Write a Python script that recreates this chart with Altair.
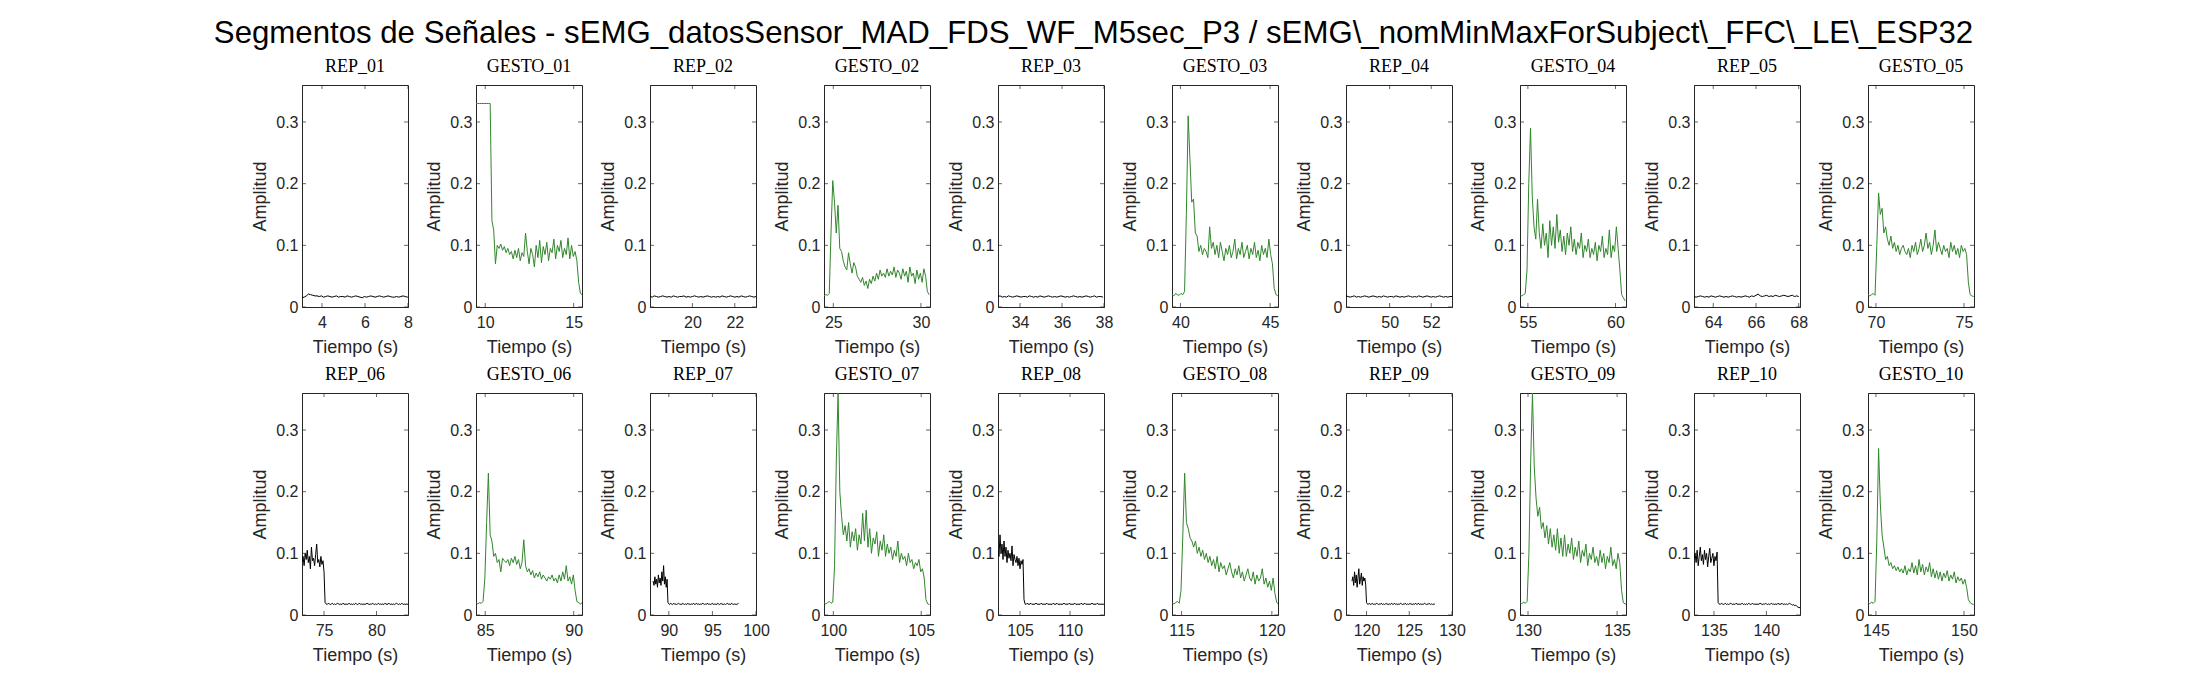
import altair as alt
import pandas as pd

TITLE = ("Segmentos de Señales - sEMG_datosSensor_MAD_FDS_WF_M5sec_P3 / "
         "sEMG\\_nomMinMaxForSubject\\_FFC\\_LE\\_ESP32")

DT = 0.1          # paso de muestreo (s)
Y_MAX = 0.36
Y_TICKS = [0, 0.1, 0.2, 0.3]

# amplitudes en milesimas, una muestra cada DT segundos desde t0
rep_01 = [15, 16, 18, 21, 20, 19, 18, 18, 17, 18, 16, 17, 18, 17, 16, 17, 18, 16, 17, 17,
          16, 18, 17, 16, 17, 18, 17, 16, 15, 17, 16, 17, 18, 17, 16, 17, 18, 17, 16, 17,
          18, 17, 16, 16, 17, 16, 17, 18, 17, 16, 17]
gesto_01 = [330, 330, 330, 330, 330, 330, 330, 330, 330, 140,
            125, 70, 100, 95, 102, 92, 98, 88, 95, 85,
            90, 78, 92, 80, 95, 75, 88, 82, 120, 90,
            70, 95, 85, 65, 100, 80, 108, 72, 98, 85,
            105, 75, 95, 88, 110, 78, 100, 90, 108, 80,
            95, 85, 112, 78, 100, 82, 90, 75, 40, 22, 20]
rep_02 = [17, 16, 18, 17, 16, 17, 18, 17, 16, 17, 16, 18, 17, 16, 17, 17, 18, 16, 17, 16,
          17, 18, 17, 16, 17, 16, 17, 18, 17, 16, 17, 16, 17, 16, 18, 17, 16, 17, 18, 17,
          16, 17, 16, 18, 17, 16, 17, 18, 17, 16, 17]
gesto_02 = [18, 20, 19, 22, 120, 205, 170, 120, 165, 95,
            90, 75, 65, 60, 88, 70, 55, 72, 65, 50,
            45, 40, 48, 35, 42, 30, 45, 38, 50, 42,
            55, 45, 60, 50, 55, 48, 62, 50, 58, 52,
            65, 48, 60, 55, 45, 62, 50, 58, 40, 65,
            50, 55, 38, 60, 45, 55, 40, 62, 50, 25, 20]
rep_03 = [17, 18, 16, 17, 16, 18, 17, 16, 17, 18, 17, 16, 17, 17, 16, 18, 17, 16, 17, 16,
          18, 17, 16, 17, 18, 17, 16, 17, 16, 17, 18, 17, 16, 17, 16, 17, 18, 17, 16, 17,
          16, 17, 18, 17, 16, 17, 18, 16, 17, 17, 16]
gesto_03 = [20, 18, 22, 20, 19, 22, 20, 25, 150, 310,
            240, 170, 175, 120, 115, 90, 100, 85, 95, 90,
            80, 130, 95, 105, 85, 100, 80, 105, 90, 75,
            95, 85, 100, 80, 90, 110, 78, 95, 85, 105,
            80, 90, 100, 78, 95, 85, 105, 80, 92, 75,
            100, 85, 95, 80, 110, 85, 70, 30, 20, 18]
rep_04 = [18, 17, 16, 17, 18, 16, 17, 16, 17, 18, 17, 16, 17, 18, 17, 16, 17, 16, 18, 17,
          16, 17, 17, 16, 18, 17, 16, 17, 16, 17, 18, 17, 16, 17, 16, 18, 17, 16, 17, 18,
          17, 16, 17, 16, 17, 18, 17, 16, 17, 16, 17, 17]
gesto_04 = [20, 18, 20, 22, 60, 200, 290, 180, 130, 110,
            175, 120, 95, 135, 100, 120, 80, 140, 100, 130,
            95, 150, 105, 125, 90, 115, 85, 120, 100, 130,
            90, 110, 85, 105, 95, 120, 80, 100, 90, 110,
            80, 95, 85, 105, 75, 100, 90, 115, 80, 95,
            85, 125, 80, 100, 90, 130, 95, 60, 20, 15, 10]
rep_05 = [17, 16, 17, 18, 17, 16, 17, 16, 18, 17, 16, 17, 18, 17, 16, 17, 16, 17, 18, 17,
          16, 17, 16, 17, 18, 17, 16, 18, 17, 19, 21, 18, 17, 18, 19, 17, 18, 17, 19, 18,
          17, 18, 19, 18, 17, 18, 19, 17, 18, 17]
gesto_05 = [20, 18, 20, 22, 19, 100, 185, 150, 160, 120,
            130, 110, 100, 115, 95, 105, 90, 100, 85, 95,
            100, 90, 85, 95, 80, 100, 90, 105, 85, 95,
            110, 90, 100, 120, 95, 105, 85, 100, 125, 90,
            105, 95, 85, 100, 90, 95, 80, 105, 90, 100,
            85, 95, 80, 100, 90, 95, 85, 40, 20, 18, 17]
rep_06 = [85, 95, 80, 100, 90, 105, 85, 95, 75, 110,
          88, 92, 80, 98, 115, 85, 90, 78, 95, 82,
          88, 70,
          20, 18, 17, 19, 18, 17, 18, 19, 17, 18,
          17, 18, 19, 18, 17, 18, 17, 19, 18, 17,
          18, 17, 18, 19, 17, 18, 17, 18, 17, 19,
          18, 17, 18, 19, 17, 18, 17, 18, 17, 18,
          19, 18, 17, 18, 17, 19, 18, 17, 18, 17,
          18, 19, 17, 18, 17, 18, 17, 19, 18, 17,
          18, 19, 17, 18, 17, 18, 17, 18, 19, 18,
          17, 18, 17, 19, 18, 17, 18, 17, 18, 17]
gesto_06 = [20, 18, 20, 19, 22, 60, 150, 230, 130, 120,
            95, 100, 85, 90, 70, 92, 88, 85, 90, 80,
            92, 85, 95, 82, 90, 75, 85, 122, 80, 70,
            75, 65, 72, 60, 68, 62, 70, 58, 65, 60,
            55, 62, 58, 65, 55, 60, 52, 65, 55, 70,
            58, 80, 55, 62, 50, 65, 40, 22, 20, 18, 20]
rep_07 = [55, 48, 62, 50, 58, 45, 65, 52, 60, 48,
          70, 55, 80, 50, 62, 45, 58,
          20, 18, 17, 19, 18, 17, 18, 19, 17, 18,
          17, 18, 19, 18, 17, 18, 17, 19, 18, 17,
          18, 17, 18, 19, 17, 18, 17, 18, 17, 19,
          18, 17, 18, 19, 17, 18, 17, 18, 17, 18,
          19, 18, 17, 18, 17, 19, 18, 17, 18, 17,
          18, 19, 17, 18, 17, 18, 17, 19, 18, 17,
          18, 19, 17, 18, 17, 18, 17, 18, 19, 18,
          17, 18, 17, 19, 18, 17, 18, 17, 18, 17,
          18, 19]
gesto_07 = [20, 18, 20, 22, 19, 21, 80, 250, 360, 200,
            160, 130, 145, 120, 150, 110, 135, 120, 140, 105,
            130, 115, 165, 120, 170, 110, 140, 100, 125, 115,
            135, 95, 120, 105, 130, 95, 115, 100, 110, 90,
            105, 95, 120, 85, 100, 90, 95, 80, 100, 85,
            90, 75, 85, 80, 90, 70, 75, 60, 25, 18, 17]
rep_08 = [105, 95, 130, 100, 115, 90, 120, 95, 110, 85,
          105, 92, 100, 88, 112, 80, 98, 90, 85, 95,
          80, 92, 75, 88, 82, 90,
          25, 18, 17, 19, 18, 17, 18, 19, 17, 18,
          17, 18, 19, 18, 17, 18, 17, 19, 18, 17,
          18, 17, 18, 19, 17, 18, 17, 18, 17, 19,
          18, 17, 18, 19, 17, 18, 17, 18, 17, 18,
          19, 18, 17, 18, 17, 19, 18, 17, 18, 17,
          18, 19, 17, 18, 17, 18, 17, 19, 18, 17,
          18, 19, 17, 18, 17, 18, 17, 18, 19, 18,
          17, 18, 17, 19, 18, 17, 18, 17, 18, 17, 18]
gesto_08 = [20, 18, 20, 22, 19, 40, 130, 230, 150, 140,
            125, 120, 110, 120, 100, 110, 95, 105, 90, 100,
            85, 95, 80, 90, 75, 95, 70, 85, 75, 80,
            65, 75, 85, 70, 60, 75, 65, 80, 60, 70,
            55, 65, 75, 60, 55, 70, 50, 65, 55, 60,
            75, 50, 60, 45, 55, 40, 60, 35, 20, 18]
rep_09 = [55, 62, 48, 70, 52, 65, 45, 60, 75, 50,
          58, 68, 48, 62, 55, 60, 50,
          20, 18, 17, 19, 18, 17, 18, 19, 17, 18,
          17, 18, 19, 18, 17, 18, 17, 19, 18, 17,
          18, 17, 18, 19, 17, 18, 17, 18, 17, 19,
          18, 17, 18, 19, 17, 18, 17, 18, 17, 18,
          19, 18, 17, 18, 17, 19, 18, 17, 18, 17,
          18, 19, 17, 18, 17, 18, 17, 19, 18, 17,
          18, 19, 17, 18, 17, 18, 17, 18, 19, 18,
          17, 18, 17, 19, 18, 17, 18, 17, 18, 17, 18]
gesto_09 = [20, 18, 21, 19, 22, 100, 250, 360, 240, 190,
            160, 175, 140, 150, 125, 145, 115, 140, 110, 130,
            105, 140, 100, 125, 95, 130, 95, 115, 100, 125,
            90, 110, 95, 120, 85, 105, 95, 115, 80, 100,
            90, 110, 85, 95, 80, 105, 85, 100, 75, 95,
            85, 110, 80, 90, 75, 100, 85, 40, 20, 18, 17]
rep_10 = [90, 100, 85, 105, 80, 95, 110, 88, 98, 82,
          105, 90, 100, 78, 95, 108, 85, 92, 100, 80,
          95, 88, 102,
          20, 18, 17, 19, 18, 17, 18, 19, 17, 18,
          17, 18, 19, 18, 17, 18, 17, 19, 18, 17,
          18, 17, 18, 19, 17, 18, 17, 18, 17, 19,
          18, 17, 18, 19, 17, 18, 17, 18, 17, 18,
          19, 18, 17, 18, 17, 19, 18, 17, 18, 17,
          18, 19, 17, 18, 17, 18, 17, 19, 18, 17,
          18, 19, 17, 18, 17, 18, 17, 18, 19, 18,
          17, 16, 17, 15, 16, 14, 13, 12, 12]
gesto_10 = [20, 18, 21, 19, 22, 120, 270, 180, 130, 110,
            90, 95, 80, 85, 75, 80, 72, 78, 70, 75,
            68, 80, 65, 75, 70, 85, 68, 80, 65, 90,
            70, 82, 65, 78, 70, 85, 62, 75, 60, 72,
            58, 70, 55, 68, 60, 72, 55, 65, 58, 70,
            52, 62, 55, 60, 50, 58, 45, 25, 20, 18, 17]

names = ["REP_01", "GESTO_01", "REP_02", "GESTO_02", "REP_03",
         "GESTO_03", "REP_04", "GESTO_04", "REP_05", "GESTO_05",
         "REP_06", "GESTO_06", "REP_07", "GESTO_07", "REP_08",
         "GESTO_08", "REP_09", "GESTO_09", "REP_10", "GESTO_10"]
signals = [rep_01, gesto_01, rep_02, gesto_02, rep_03, gesto_03, rep_04, gesto_04, rep_05, gesto_05,
           rep_06, gesto_06, rep_07, gesto_07, rep_08, gesto_08, rep_09, gesto_09, rep_10, gesto_10]

# inicio de cada senal (s)
t0s = [3.07, 9.48, 18.0, 24.47, 32.95, 39.53, 47.9, 54.55, 63.1, 69.55,
       72.9, 84.48, 88.2, 99.47, 102.8, 114.47, 118.3, 129.55, 133.1, 144.55]
# limites del eje x
xlims = [(3.07, 8.0), (9.48, 15.47), (18.0, 23.0), (24.47, 30.52), (32.95, 38.0),
         (39.53, 45.44), (47.9, 53.0), (54.55, 60.6), (63.1, 68.06), (69.55, 75.57),
         (72.9, 83.0), (84.48, 90.47), (87.84, 100.0), (99.47, 105.5), (102.8, 113.4),
         (114.47, 120.34), (117.6, 130.0), (129.55, 135.5), (133.1, 143.2), (144.55, 150.57)]
xticks = [[4, 6, 8], [10, 15], [20, 22], [25, 30], [34, 36, 38],
          [40, 45], [50, 52], [55, 60], [64, 66, 68], [70, 75],
          [75, 80], [85, 90], [90, 95, 100], [100, 105], [105, 110],
          [115, 120], [120, 125, 130], [130, 135], [135, 140], [145, 150]]

AXIS = "#262626"
GREEN = "#31862c"
W, H = 106, 222


def panel(name, vals, t0, xlim, ticks):
    color = GREEN if name.startswith("GESTO") else "black"
    df = pd.DataFrame({"t": [t0 + i * DT for i in range(len(vals))],
                       "a": [v / 1000 for v in vals]})
    xs = alt.Scale(domain=list(xlim), nice=False, zero=False)
    ys = alt.Scale(domain=[0, Y_MAX], nice=False)
    x_enc = alt.X("t:Q", scale=xs, title="Tiempo (s)",
                  axis=alt.Axis(values=ticks, format="d", labelPadding=7, titlePadding=8))
    y_enc = alt.Y("a:Q", scale=ys, title="Amplitud",
                  axis=alt.Axis(values=Y_TICKS, format="~g", labelPadding=4, titlePadding=6))
    line = alt.Chart(df).mark_line(color=color, strokeWidth=1, clip=True).encode(x=x_enc, y=y_enc)
    # marcas de escala hacia adentro, estilo MATLAB
    yt = pd.DataFrame({"t": [xlim[0]] * 4 + [xlim[1]] * 4, "a": Y_TICKS * 2})
    ytick = alt.Chart(yt).mark_tick(orient="horizontal", size=8, thickness=1,
                                    color=AXIS, clip=True).encode(x=x_enc, y=y_enc)
    xt = pd.DataFrame({"t": ticks * 2, "a": [0] * len(ticks) + [Y_MAX] * len(ticks)})
    xtick = alt.Chart(xt).mark_tick(orient="vertical", size=8, thickness=1,
                                    color=AXIS, clip=True).encode(x=x_enc, y=y_enc)
    return alt.layer(line, ytick, xtick).properties(
        width=W, height=H,
        title=alt.TitleParams(name, font="Liberation Serif", fontSize=18,
                              fontWeight="normal", color="black", offset=9),
    )


panels = [panel(n, s, t, xl, tk) for n, s, t, xl, tk in zip(names, signals, t0s, xlims, xticks)]

chart = alt.concat(*panels, columns=10, spacing={"row": 86, "column": 68}, bounds="flush").properties(
    title=alt.TitleParams(TITLE, font="Liberation Sans", fontSize=31.2, fontWeight="normal",
                          color="black", anchor="middle", dx=-21, offset=8),
    padding={"left": 205, "top": 10, "right": 10, "bottom": 10},
).configure_view(
    stroke=AXIS, strokeWidth=1
).configure_axis(
    ticks=False, grid=False, domainColor=AXIS, domainWidth=1,
    labelFont="Liberation Sans", labelFontSize=16, labelColor=AXIS,
    labelFlush=False, labelOverlap=False,
    titleFont="Liberation Sans", titleFontSize=18, titleFontWeight="normal", titleColor=AXIS,
)

chart.save("out.html", embed_options={"renderer": "svg", "actions": False})
